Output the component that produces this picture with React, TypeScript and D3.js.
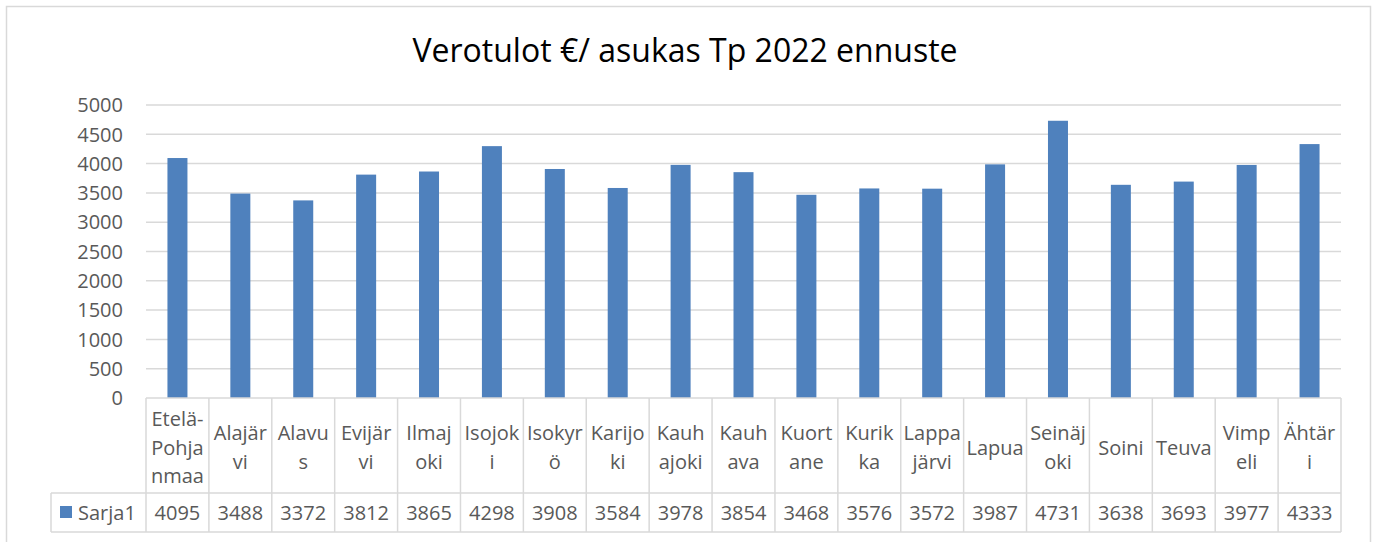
import React from 'react';
import * as d3 from 'd3';

const width = 1378;
const height = 542;

const title = 'Verotulot €/ asukas Tp 2022 ennuste';
const seriesName = 'Sarja1';

const categories = [
  'Etelä-Pohjanmaa', 'Alajärvi', 'Alavus', 'Evijärvi', 'Ilmajoki', 'Isojoki',
  'Isokyrö', 'Karijoki', 'Kauhajoki', 'Kauhava', 'Kuortane', 'Kurikka',
  'Lappajärvi', 'Lapua', 'Seinäjoki', 'Soini', 'Teuva', 'Vimpeli', 'Ähtäri',
];

// how Excel wrapped the names inside the data table cells
const categoryLines = [
  ['Etelä-', 'Pohja', 'nmaa'], ['Alajär', 'vi'], ['Alavu', 's'], ['Evijär', 'vi'],
  ['Ilmaj', 'oki'], ['Isojok', 'i'], ['Isokyr', 'ö'], ['Karijo', 'ki'],
  ['Kauh', 'ajoki'], ['Kauh', 'ava'], ['Kuort', 'ane'], ['Kurik', 'ka'],
  ['Lappa', 'järvi'], ['Lapua'], ['Seinäj', 'oki'], ['Soini'], ['Teuva'],
  ['Vimp', 'eli'], ['Ähtär', 'i'],
];

const values = [
  4095, 3488, 3372, 3812, 3865, 4298, 3908, 3584, 3978, 3854,
  3468, 3576, 3572, 3987, 4731, 3638, 3693, 3977, 4333,
];

const yTicks = [0, 500, 1000, 1500, 2000, 2500, 3000, 3500, 4000, 4500, 5000];

const font = "'Open Sans', sans-serif";
const textColor = '#595959';
const gridColor = '#d9d9d9';
const barColor = '#4f81bd';
const fontSize = 20;

const plotLeft = 146;
const plotRight = 1341;
const plotTop = 105;
const plotBottom = 398;
const rowSplit = 493;
const tableBottom = 532;
const legendLeft = 51;

const x = d3.scaleBand<string>()
  .domain(categories)
  .range([plotLeft, plotRight]);

const y = d3.scaleLinear()
  .domain([0, 5000])
  .range([plotBottom, plotTop]);

const barWidth = 20;
const lineHeight = 28.5;

export default function App() {
  return (
    <svg width={width} height={height} style={{ position: 'absolute', left: 0, top: 0 }}>
      <rect x={0} y={0} width={width} height={height} fill="white" />
      <rect x={6.5} y={6.5} width={1364} height={560} fill="white" stroke={gridColor} strokeWidth={1.5} />

      <text x={685} y={62} textAnchor="middle" fontFamily={font} fontSize={32} fill="#000">
        {title}
      </text>

      {/* gridlines */}
      {yTicks.filter(t => t > 0).map(t => (
        <line key={t} x1={plotLeft} x2={plotRight} y1={y(t)} y2={y(t)} stroke={gridColor} strokeWidth={1.5} />
      ))}

      {/* y axis labels */}
      {yTicks.map(t => (
        <text key={t} x={123} y={y(t)} dy="0.36em" textAnchor="end" fontFamily={font} fontSize={fontSize} fill={textColor}>
          {t}
        </text>
      ))}

      {/* bars */}
      {categories.map((c, i) => (
        <rect
          key={c}
          x={x(c)! + x.bandwidth() / 2 - barWidth / 2}
          y={y(values[i])}
          width={barWidth}
          height={y(0) - y(values[i])}
          fill={barColor}
        />
      ))}

      {/* data table */}
      <g stroke={gridColor} strokeWidth={1.5}>
        <line x1={plotLeft} x2={plotRight} y1={plotBottom} y2={plotBottom} />
        <line x1={legendLeft} x2={plotRight} y1={rowSplit} y2={rowSplit} />
        <line x1={legendLeft} x2={plotRight} y1={tableBottom} y2={tableBottom} />
        <line x1={legendLeft} x2={legendLeft} y1={rowSplit} y2={tableBottom} />
        {categories.map(c => (
          <line key={c} x1={x(c)!} x2={x(c)!} y1={plotBottom} y2={tableBottom} />
        ))}
        <line x1={plotRight} x2={plotRight} y1={plotBottom} y2={tableBottom} />
      </g>

      {categories.map((c, i) => {
        const lines = categoryLines[i];
        const cx = x(c)! + x.bandwidth() / 2;
        const mid = (plotBottom + rowSplit) / 2 + 2;
        const start = mid - ((lines.length - 1) * lineHeight) / 2;
        return (
          <text key={c} textAnchor="middle" fontFamily={font} fontSize={fontSize} fill={textColor}>
            {lines.map((l, j) => (
              <tspan key={j} x={cx} y={start + j * lineHeight} dy="0.36em">{l}</tspan>
            ))}
          </text>
        );
      })}

      {categories.map((c, i) => (
        <text
          key={c}
          x={x(c)! + x.bandwidth() / 2}
          y={(rowSplit + tableBottom) / 2}
          dy="0.36em"
          textAnchor="middle"
          fontFamily={font}
          fontSize={fontSize}
          fill={textColor}
        >
          {values[i]}
        </text>
      ))}

      <rect x={60} y={506} width={12} height={12} fill={barColor} />
      <text x={78} y={(rowSplit + tableBottom) / 2} dy="0.36em" fontFamily={font} fontSize={fontSize} fill={textColor}>
        {seriesName}
      </text>
    </svg>
  );
}
